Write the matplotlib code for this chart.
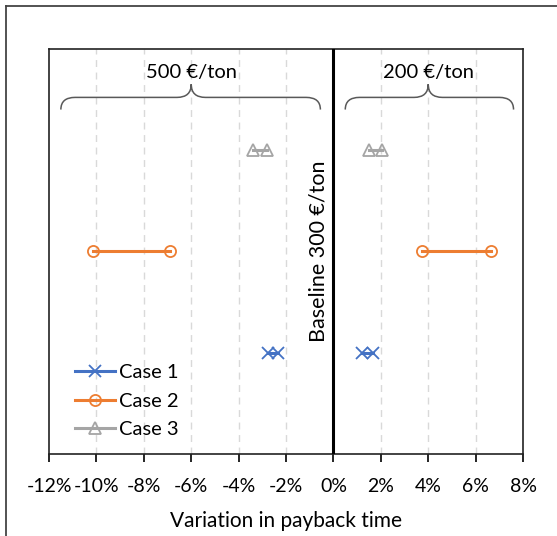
import matplotlib
matplotlib.use("Agg")
import matplotlib.pyplot as plt
from matplotlib.path import Path
from matplotlib.patches import PathPatch
from matplotlib.lines import Line2D
from matplotlib.ticker import PercentFormatter

plt.rcParams['font.family'] = ['Lato', 'DejaVu Sans']
plt.rcParams['axes.unicode_minus'] = False

# data (variation in payback time, %)
cases = ["Case 1", "Case 2", "Case 3"]
case_pos = [1, 2, 3]
low_500 = [-2.75, -10.15, -3.4]
high_500 = [-2.35, -6.9, -2.8]
low_200 = [1.2, 3.75, 1.5]
high_200 = [1.65, 6.65, 2.05]
colors = ["#4472C4", "#ED7D31", "#A5A5A5"]
markers = ["x", "o", "^"]
xticks = [-12, -10, -8, -6, -4, -2, 0, 2, 4, 6, 8]

fig = plt.figure(figsize=(5.57, 5.36), dpi=100)
ax = fig.add_axes([0.088, 0.153, 0.851, 0.756])

for name, y, a, b, c, d, col, m in zip(cases, case_pos, low_500, high_500,
                                       low_200, high_200, colors, markers):
    kw = dict(color=col, marker=m, lw=2.2, ms=8, mew=1.3, mfc="none", zorder=3)
    ax.plot([a, b], [y, y], label=name, **kw)
    ax.plot([c, d], [y, y], **kw)

# baseline
ax.axvline(0, color="black", lw=2.2, zorder=4)
ax.text(-0.65, 2.0, "Baseline 300 €/ton", rotation=90, ha="center",
        va="center", fontsize=15.5)


def brace(x0, x1, xm, yb, yh, yt, rx=0.6):
    verts = [(x0, yb), (x0, yh), (x0 + rx, yh),
             (xm - rx, yh), (xm, yh), (xm, yt),
             (xm, yh), (xm + rx, yh),
             (x1 - rx, yh), (x1, yh), (x1, yb)]
    codes = [Path.MOVETO, Path.CURVE3, Path.CURVE3,
             Path.LINETO, Path.CURVE3, Path.CURVE3,
             Path.CURVE3, Path.CURVE3,
             Path.LINETO, Path.CURVE3, Path.CURVE3]
    ax.add_patch(PathPatch(Path(verts, codes), fc="none", ec="#595959",
                           lw=1.1, zorder=3))


brace(-11.5, -0.55, -6.0, 3.40, 3.52, 3.65)
brace(0.5, 7.6, 4.0, 3.40, 3.52, 3.65)
ax.text(-6.0, 3.77, "500 €/ton", ha="center", va="center", fontsize=14.5)
ax.text(4.0, 3.77, "200 €/ton", ha="center", va="center", fontsize=14.5)

ax.set_xlim(-12, 8)
ax.set_ylim(0, 4)
ax.set_xticks(xticks)
ax.xaxis.set_major_formatter(PercentFormatter(xmax=100, decimals=0))
ax.set_yticks([])
ax.tick_params(axis="x", direction="out", length=6, width=1.2,
               labelsize=14, pad=11)
for v in xticks[1:-1]:
    if v != 0:
        ax.axvline(v, color="#D9D9D9", lw=1, ls=(0, (5, 4)), zorder=1)
for s in ax.spines.values():
    s.set_linewidth(1.2)
    s.set_color("#222222")
ax.set_xlabel("Variation in payback time", fontsize=15, labelpad=12)

ax.legend(loc="lower left", bbox_to_anchor=(0.055, 0.04), frameon=False,
          borderaxespad=0, borderpad=0, numpoints=1, handlelength=2.0,
          handletextpad=0.2, labelspacing=0.55, fontsize=14.5)

# outer frame (left and top edges visible)
fig.add_artist(Line2D([6 / 557, 6 / 557], [0, 1 - 6 / 536], color="#444444",
                      lw=1.3, transform=fig.transFigure))
fig.add_artist(Line2D([6 / 557, 1], [1 - 6 / 536, 1 - 6 / 536], color="#444444",
                      lw=1.3, transform=fig.transFigure))

fig.savefig("out.png", dpi=100)
